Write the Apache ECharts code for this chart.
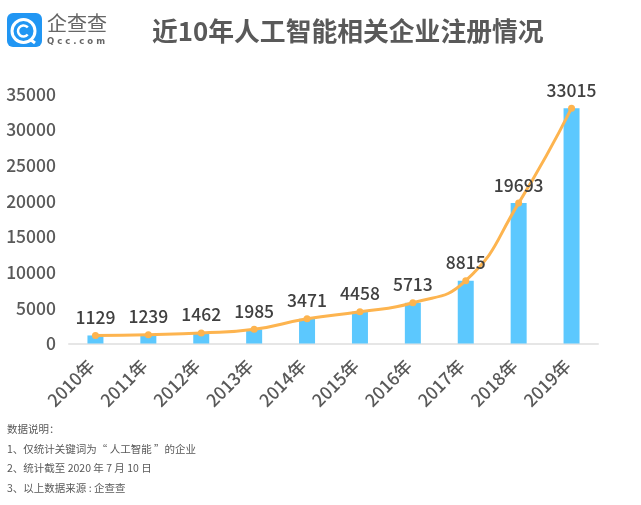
<!DOCTYPE html>
<html>
<head>
<meta charset="utf-8">
<style>
  html, body { margin: 0; padding: 0; background: #fff; }
  #main { width: 641px; height: 505px; }
</style>
<script src="https://cdn.jsdelivr.net/npm/echarts@6/dist/echarts.min.js"></script>
</head>
<body>
<div id="main"></div>
<script>
const years = ['2010年','2011年','2012年','2013年','2014年','2015年','2016年','2017年','2018年','2019年'];
const counts = [1129,1239,1462,1985,3471,4458,5713,8815,19693,33015];
const notes = ['数据说明：','1、仅统计关键词为“ 人工智能 ”的企业','2、统计截至 2020 年 7 月 10 日','3、以上数据来源 : 企查查'];

const font = '"Noto Sans CJK SC", "Noto Sans", sans-serif';
const chart = echarts.init(document.getElementById('main'));

chart.setOption({
  animation: false,
  backgroundColor: '#fff',
  textStyle: { fontFamily: font },
  title: {
    text: '近10年人工智能相关企业注册情况',
    left: 147, top: 13,
    textStyle: { fontSize: 25.8, fontWeight: 'bold', color: '#595959', fontFamily: font }
  },
  grid: { left: 69, right: 43, top: 94, bottom: 161.5 },
  xAxis: {
    type: 'category',
    data: years,
    axisLine: { lineStyle: { color: '#e6e6e6', width: 2 } },
    axisTick: { show: false },
    axisLabel: { rotate: 45, fontSize: 17.5, fontWeight: 500, color: '#595959', margin: 15, padding: [0, 6, 0, 0], interval: 0, fontFamily: font }
  },
  yAxis: {
    type: 'value',
    min: 0, max: 35000, interval: 5000,
    axisLine: { show: false },
    axisTick: { show: false },
    splitLine: { show: false },
    axisLabel: {
      fontSize: 17.5, fontWeight: 500, color: '#595959', margin: 13, fontFamily: font,
      formatter: v => String(v)
    }
  },
  series: [
    {
      type: 'bar',
      data: counts,
      barWidth: 16,
      itemStyle: { color: '#5cc8fe' }
    },
    {
      type: 'line',
      data: counts,
      smooth: true,
      symbol: 'circle',
      symbolSize: 7,
      lineStyle: { color: '#fdb44f', width: 3 },
      itemStyle: { color: '#fdb44f' },
      label: { show: true, position: 'top', distance: 6, fontSize: 17.5, fontWeight: 500, color: '#404040', fontFamily: font }
    }
  ],
  graphic: [
    { type: 'rect', shape: { x: 7, y: 13, width: 35, height: 34, r: 6 }, style: { fill: '#2196f3' } },
    { type: 'ring', shape: { cx: 23.5, cy: 31, r: 13, r0: 10 }, style: { fill: '#fff' } },
    { type: 'arc', shape: { cx: 23.5, cy: 31, r: 5.5, startAngle: 0.7, endAngle: 5.6 }, style: { stroke: '#fff', lineWidth: 2.5, fill: 'none' } },
    { type: 'line', shape: { x1: 31, y1: 40, x2: 35, y2: 43 }, style: { stroke: '#fff', lineWidth: 3 } },
    { type: 'text', left: 47, top: 13, style: { text: '企查查', font: '20px ' + font, fill: '#666' } },
    { type: 'text', left: 47, top: 37, style: { text: 'Q c c . c o m', font: 'bold 8.5px "DejaVu Sans", sans-serif', fill: '#666' } },
    ...notes.map((t, i) => ({
      type: 'text', left: 7, top: 424 + i * 19.6,
      style: { text: t, font: '10.5px ' + font, fill: '#595959' }
    }))
  ]
});
</script>
</body>
</html>
